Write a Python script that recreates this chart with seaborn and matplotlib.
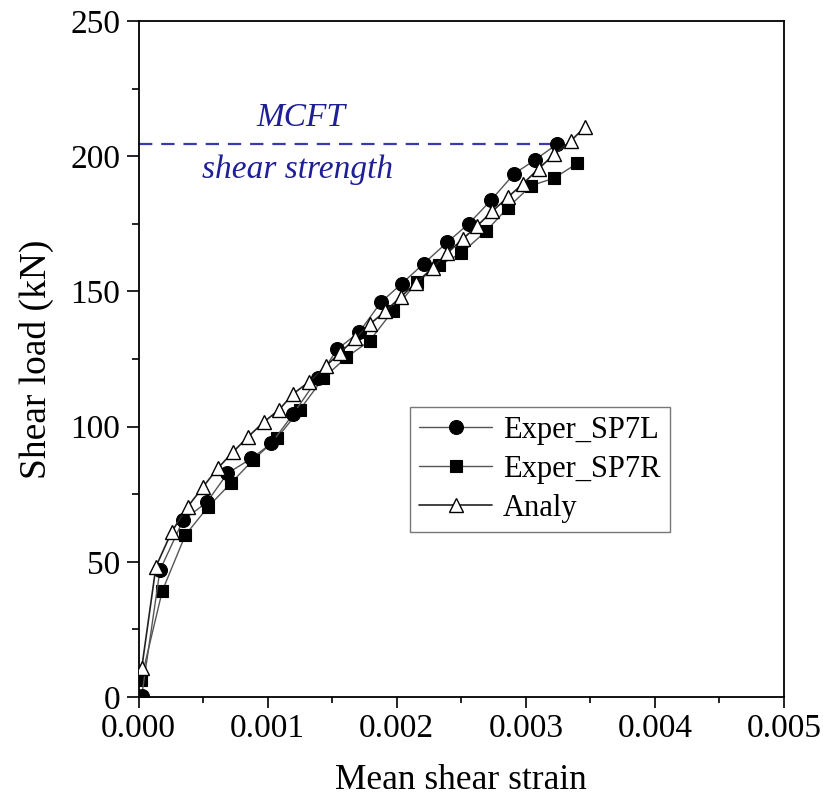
import matplotlib
matplotlib.use("Agg")
import matplotlib.pyplot as plt
import seaborn as sns
import pandas as pd
from matplotlib.ticker import MultipleLocator, FormatStrFormatter

# ---------------- data ----------------
sp7l_strain = [0.000025, 0.000166, 0.000346, 0.000529, 0.000689, 0.000874, 0.00103, 0.00120,
               0.00139, 0.00154, 0.00171, 0.00188, 0.00204, 0.00221, 0.00239, 0.00256,
               0.00273, 0.00291, 0.00307, 0.00324]
sp7l_load = [0.5, 46.9, 65.4, 72.0, 82.7, 88.2, 93.8, 104.8,
             117.9, 128.6, 135.0, 146.1, 152.9, 160.3, 168.1, 175.1,
             183.7, 193.5, 198.6, 204.4]

sp7r_strain = [0.00002, 0.000184, 0.000363, 0.000539, 0.00072, 0.000886, 0.00107, 0.00125,
               0.00143, 0.00161, 0.00179, 0.00197, 0.00216, 0.00233, 0.0025, 0.00269,
               0.00286, 0.00304, 0.00322, 0.0034]
sp7r_load = [6.3, 39.2, 59.9, 70.3, 79.3, 87.6, 95.6, 106.3,
             117.8, 125.6, 131.7, 142.8, 153.5, 159.8, 164.1, 172.2,
             180.9, 189.1, 191.9, 197.4]

analy_strain = [0.000025, 0.000135, 0.000256, 0.00038, 0.0005, 0.000612, 0.000732, 0.000848,
                0.000971, 0.00109, 0.0012, 0.00132, 0.00145, 0.00156, 0.00168, 0.00179,
                0.00191, 0.00203, 0.00215, 0.00228, 0.00239, 0.00251, 0.00262, 0.00274,
                0.00286, 0.00298, 0.0031, 0.00322, 0.00335, 0.00346]
analy_load = [10.7, 48.2, 61.0, 70.3, 77.7, 84.5, 90.6, 96.2,
              101.7, 106.3, 112.2, 116.5, 122.3, 127.3, 132.6, 137.8,
              142.6, 147.9, 153.2, 158.7, 164.1, 169.3, 174.1, 179.6,
              184.8, 189.9, 195.4, 200.7, 205.7, 210.9]

mcft_strength = 204.6
mcft_end_strain = 0.00324

series_names = ["Exper_SP7L", "Exper_SP7R", "Analy"]
x_ticks = [0.000, 0.001, 0.002, 0.003, 0.004, 0.005]
y_ticks = [0, 50, 100, 150, 200, 250]

# ---------------- style ----------------
sns.set_theme(style="ticks")
plt.rcParams["font.family"] = ["Liberation Serif", "DejaVu Serif"]
plt.rcParams["text.color"] = "black"
plt.rcParams["axes.labelcolor"] = "black"
plt.rcParams["xtick.color"] = "black"
plt.rcParams["ytick.color"] = "black"

fig = plt.figure(figsize=(8.23, 8.05), dpi=100)
ax = fig.add_axes([0.1683, 0.1342, 0.7843, 0.8397])

df_l = pd.DataFrame({"strain": sp7l_strain, "load": sp7l_load})
df_r = pd.DataFrame({"strain": sp7r_strain, "load": sp7r_load})
df_a = pd.DataFrame({"strain": analy_strain, "load": analy_load})

sns.lineplot(data=df_r, x="strain", y="load", ax=ax, sort=False, estimator=None,
             color="#555555", lw=1.0, marker="s", markersize=8,
             markerfacecolor="black", markeredgecolor="black", markeredgewidth=0.8,
             label=series_names[1], zorder=3)
sns.lineplot(data=df_l, x="strain", y="load", ax=ax, sort=False, estimator=None,
             color="#555555", lw=1.0, marker="o", markersize=10,
             markerfacecolor="black", markeredgecolor="black", markeredgewidth=0.8,
             label=series_names[0], zorder=4)
sns.lineplot(data=df_a, x="strain", y="load", ax=ax, sort=False, estimator=None,
             color="#222222", lw=1.2, marker="^", markersize=10,
             markerfacecolor="white", markeredgecolor="black", markeredgewidth=1.0,
             label=series_names[2], zorder=5)

# MCFT shear strength line and annotation
ax.plot([0, mcft_end_strain], [mcft_strength, mcft_strength], color="#3a3ab0",
        lw=1.6, dashes=(6, 4), zorder=2)
ax.text(0.00126, 214.4, "MCFT", color="#1e1e96", fontsize=24, style="italic",
        ha="center", va="center")
ax.text(0.00123, 195.0, "shear strength", color="#1e1e96", fontsize=24, style="italic",
        ha="center", va="center")

# axes
ax.set_xlim(0, 0.005)
ax.set_ylim(0, 250)
ax.set_xticks(x_ticks)
ax.set_yticks(y_ticks)
ax.xaxis.set_major_formatter(FormatStrFormatter("%.3f"))
ax.yaxis.set_major_formatter(FormatStrFormatter("%d"))
ax.xaxis.set_minor_locator(MultipleLocator(0.0005))
ax.yaxis.set_minor_locator(MultipleLocator(25))
ax.tick_params(axis="both", which="both", direction="out", width=1.2, color="black",
               labelcolor="black", labelsize=24, top=False, right=False)
ax.tick_params(axis="x", which="major", length=8, pad=4)
ax.tick_params(axis="x", which="minor", length=4.5)
ax.tick_params(axis="y", which="major", length=9, pad=4)
ax.tick_params(axis="y", which="minor", length=5)

for s in ax.spines.values():
    s.set_visible(True)
    s.set_color("black")
    s.set_linewidth(1.3)

ax.set_xlabel("Mean shear strain", fontsize=25.5, labelpad=14, color="black")
ax.set_ylabel("Shear load (kN)", fontsize=27, labelpad=12, color="black")

handles, labels = ax.get_legend_handles_labels()
order = [labels.index(n) for n in series_names]
leg = ax.legend([handles[i] for i in order], [labels[i] for i in order],
                loc="upper left", bbox_to_anchor=(0.4206, 0.429), borderaxespad=0,
                fontsize=22, frameon=True, fancybox=False, framealpha=1,
                edgecolor="#777777", handlelength=2.4, handletextpad=0.35,
                labelspacing=0.32, borderpad=0.3, numpoints=1)
leg.get_frame().set_linewidth(1.0)
for t in leg.get_texts():
    t.set_color("black")

fig.savefig("out.png", dpi=100)
